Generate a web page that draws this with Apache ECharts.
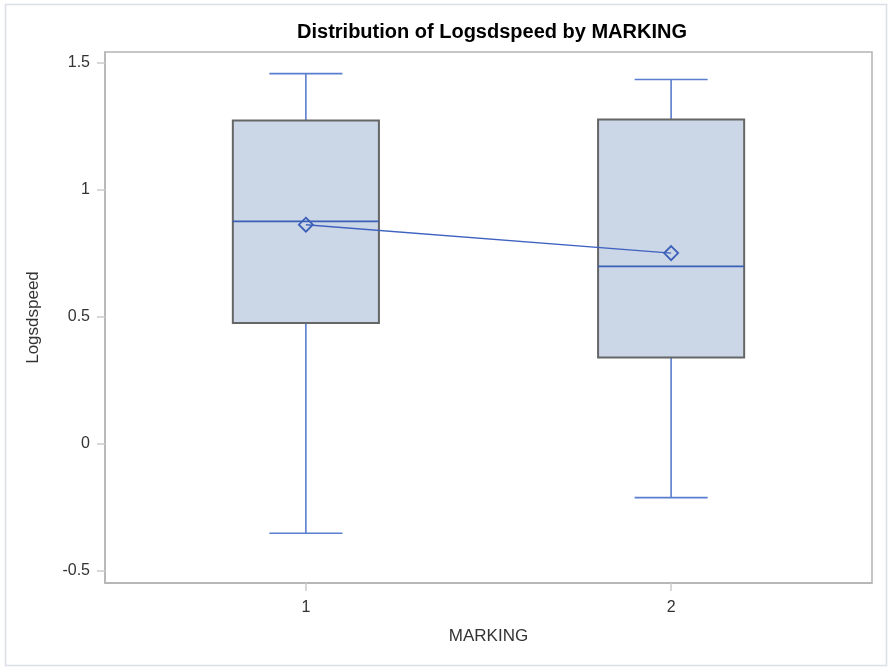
<!DOCTYPE html>
<html><head><meta charset="utf-8">
<script src="https://cdn.jsdelivr.net/npm/echarts@6/dist/echarts.min.js"></script>
<style>html,body{margin:0;padding:0;background:#fff}#c{width:888px;height:669px}</style>
</head><body><div id="c"></div>
<script>
var categories = [1, 2];
var whiskerLow = [-0.353, -0.213];
var q1 = [0.475, 0.339];
var median = [0.875, 0.698];
var q3 = [1.272, 1.276];
var whiskerHigh = [1.457, 1.434];
var means = [0.862, 0.750];
var yTicks = [-0.5, 0, 0.5, 1, 1.5];

var boxData = categories.map(function (c, i) {
  return [c, whiskerLow[i], q1[i], median[i], q3[i], whiskerHigh[i]];
});
var meanData = categories.map(function (c, i) { return [c, means[i]]; });

var chart = echarts.init(document.getElementById('c'));
var FONT = '"Liberation Sans", Arial, sans-serif';
var boxHalf = 0.2, capHalf = 0.1;
chart.setOption({
  animation: false,
  title: {
    text: 'Distribution of Logsdspeed by MARKING',
    left: 487, top: 17, textAlign: 'center',
    textStyle: { fontFamily: FONT, fontSize: 20, fontWeight: 'bold', color: '#000' }
  },
  graphic: [{
    type: 'rect', shape: { x: 5.5, y: 4.5, width: 881, height: 661 },
    style: { fill: 'none', stroke: '#dcdfe8', lineWidth: 1.5 }, silent: true, z: -1
  }],
  grid: { left: 105, top: 52, right: 16, bottom: 86, show: true, borderColor: '#b4b4b4', borderWidth: 1.5, backgroundColor: '#fff' },
  xAxis: {
    type: 'value', min: 0.45, max: 2.55,
    name: 'MARKING', nameLocation: 'middle', nameGap: 45,
    nameTextStyle: { fontFamily: FONT, fontSize: 17, color: '#333' },
    axisLine: { show: true, onZero: false, lineStyle: { color: '#b4b4b4', width: 1.5 } },
    axisTick: { show: true, customValues: categories, length: 8, lineStyle: { color: '#cccccc', width: 1.5 } },
    axisLabel: { customValues: categories, fontFamily: FONT, fontSize: 16, color: '#333', margin: 17 },
    splitLine: { show: false }
  },
  yAxis: {
    type: 'value', min: -0.549, max: 1.542,
    name: 'Logsdspeed', nameLocation: 'middle', nameGap: 63, nameRotate: 90,
    nameTextStyle: { fontFamily: FONT, fontSize: 17, color: '#333' },
    axisLine: { show: true, onZero: false, lineStyle: { color: '#b4b4b4', width: 1.5 } },
    axisTick: { show: true, customValues: yTicks, length: 8, lineStyle: { color: '#cccccc', width: 1.5 } },
    axisLabel: { customValues: yTicks, fontFamily: FONT, fontSize: 16, color: '#333', margin: 15 },
    splitLine: { show: false }
  },
  series: [{
    type: 'custom',
    data: boxData,
    renderItem: function (params, api) {
      var x = api.value(0);
      var lo = api.value(1), a = api.value(2), m = api.value(3), b = api.value(4), hi = api.value(5);
      var pL = api.coord([x - boxHalf, b]), pR = api.coord([x + boxHalf, a]);
      var pc = api.coord([x, m]);
      var pLo = api.coord([x, lo]), pHi = api.coord([x, hi]);
      var pA = api.coord([x, a]), pB = api.coord([x, b]);
      var cl = api.coord([x - capHalf, lo]), cr = api.coord([x + capHalf, lo]);
      var hl = api.coord([x - capHalf, hi]), hr = api.coord([x + capHalf, hi]);
      var wStyle = { stroke: '#5a7dce', lineWidth: 1.6 };
      return {
        type: 'group',
        children: [
          { type: 'line', shape: { x1: pHi[0], y1: pHi[1], x2: pB[0], y2: pB[1] }, style: wStyle },
          { type: 'line', shape: { x1: pLo[0], y1: pLo[1], x2: pA[0], y2: pA[1] }, style: wStyle },
          { type: 'line', shape: { x1: hl[0], y1: hl[1], x2: hr[0], y2: hr[1] }, style: wStyle },
          { type: 'line', shape: { x1: cl[0], y1: cl[1], x2: cr[0], y2: cr[1] }, style: wStyle },
          { type: 'rect', shape: { x: pL[0], y: pL[1], width: pR[0] - pL[0], height: pR[1] - pL[1] },
            style: { fill: '#cbd6e6', stroke: '#666', lineWidth: 2 } },
          { type: 'line', shape: { x1: pL[0], y1: pc[1], x2: pR[0], y2: pc[1] },
            style: { stroke: '#3c5fb8', lineWidth: 1.6 } }
        ]
      };
    },
    z: 2
  }, {
    type: 'line',
    data: meanData,
    symbol: 'diamond', symbolSize: 14,
    lineStyle: { color: '#3f62c0', width: 1.5 },
    itemStyle: { color: 'rgba(0,0,0,0)', borderColor: '#3c5fb8', borderWidth: 1.8 },
    z: 3
  }]
});
</script></body></html>
